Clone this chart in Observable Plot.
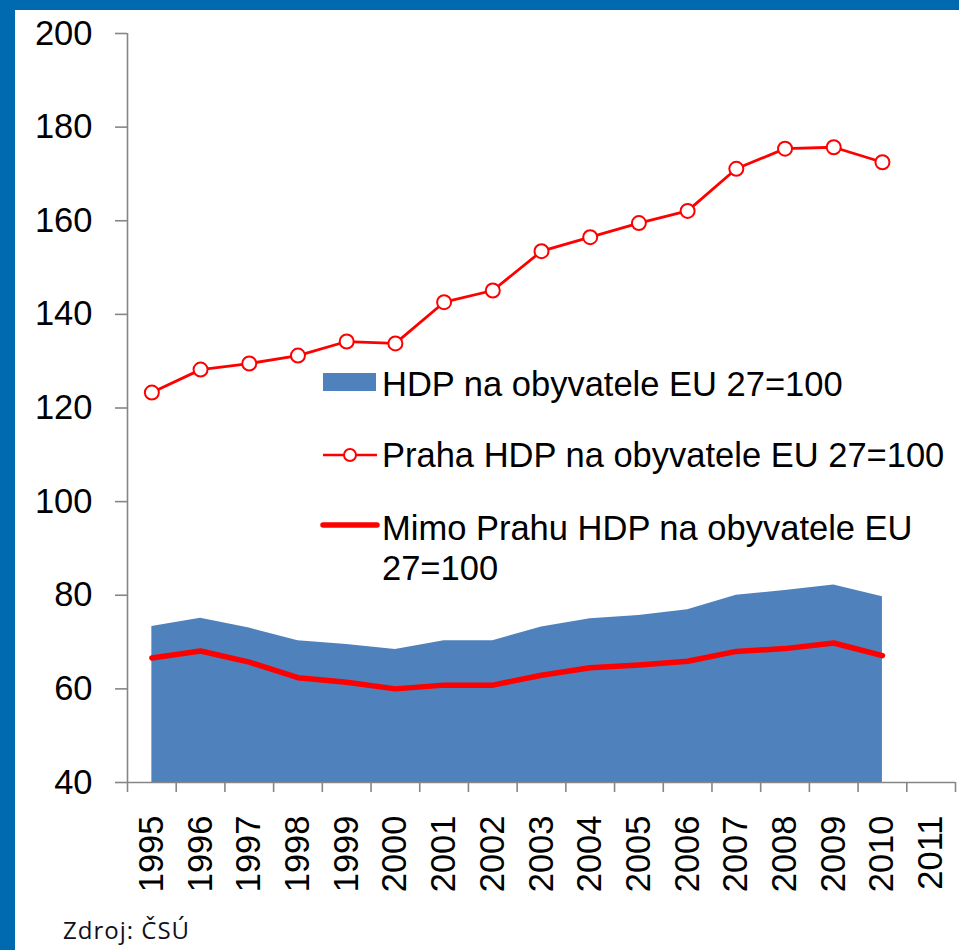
<!DOCTYPE html>
<html>
<head>
<meta charset="utf-8">
<script src="https://cdn.jsdelivr.net/npm/d3@7"></script>
<script src="https://cdn.jsdelivr.net/npm/@observablehq/plot@0.6"></script>
<style>
  html, body { margin: 0; padding: 0; background: #fff; }
  #wrap { position: relative; width: 959px; height: 950px; overflow: hidden; background: #fff; }
  .bar { position: absolute; background: #006AB0; }
  #chart { position: absolute; left: 0; top: 0; }
  .leg { position: absolute; font-family: Arial, "Liberation Sans", Arimo, Helvetica, sans-serif; font-size: 34.5px; line-height: 40px; color: #000; }
  .sw { position: absolute; }
  #caption { position: absolute; left: 63px; top: 918px; font-family: "Open Sans", sans-serif; font-size: 24px; line-height: 24px; letter-spacing: 1px; color: #10101c; }
</style>
</head>
<body>
<div id="wrap">
  <div id="chart"></div>
  <div class="bar" style="left:0;top:0;width:959px;height:10px"></div>
  <div class="bar" style="left:0;top:0;width:15px;height:950px"></div>
  <div id="legend"></div>
  <div id="caption"></div>
</div>
<script>
// ---- data ----
const years = [1995, 1996, 1997, 1998, 1999, 2000, 2001, 2002, 2003, 2004, 2005, 2006, 2007, 2008, 2009, 2010];
const axisYears = [1995, 1996, 1997, 1998, 1999, 2000, 2001, 2002, 2003, 2004, 2005, 2006, 2007, 2008, 2009, 2010, 2011];
const hdp   = [73.3, 75.1, 73.0, 70.3, 69.5, 68.4, 70.3, 70.3, 73.2, 75.0, 75.7, 76.9, 80.0, 81.0, 82.2, 79.7];
const praha = [123.3, 128.2, 129.5, 131.2, 134.2, 133.8, 142.6, 145.1, 153.5, 156.5, 159.5, 162.1, 171.1, 175.4, 175.7, 172.5];
const mimo  = [66.6, 68.1, 65.7, 62.4, 61.4, 60.0, 60.8, 60.8, 62.9, 64.5, 65.1, 65.9, 68.0, 68.6, 69.8, 67.1];
const yTicks = [40, 60, 80, 100, 120, 140, 160, 180, 200];
const seriesNames = ["HDP na obyvatele EU 27=100", "Praha HDP na obyvatele EU 27=100", "Mimo Prahu HDP na obyvatele EU 27=100"];
const sourceText = "Zdroj: ČSÚ";

const data = years.map((year, i) => ({year, hdp: hdp[i], praha: praha[i], mimo: mimo[i]}));
// category boundaries (tick marks sit between categories)
const boundaries = axisYears.map(y => y - 0.5).concat([axisYears[axisYears.length - 1] + 0.5]);

const BLUE = "#4F81BD", RED = "#FF0000", AXIS = "#868686";

const chart = Plot.plot({
  width: 959,
  height: 900,
  marginLeft: 127,
  marginRight: 4,
  marginTop: 33,
  marginBottom: 118,
  x: {domain: [boundaries[0], boundaries[boundaries.length - 1]]},
  y: {domain: [40, 200]},
  style: {fontFamily: "Arial, 'Liberation Sans', Arimo, Helvetica, sans-serif", fontSize: "34.5px", color: "#000", background: "transparent", overflow: "visible"},
  marks: [
    Plot.areaY(data, {x: "year", y1: 40, y2: "hdp", fill: BLUE}),
    Plot.line(data, {x: "year", y: "mimo", stroke: RED, strokeWidth: 5.5, strokeLinecap: "round", strokeLinejoin: "round"}),
    Plot.line(data, {x: "year", y: "praha", stroke: RED, strokeWidth: 2.8}),
    Plot.dot(data, {x: "year", y: "praha", r: 7, fill: "white", stroke: RED, strokeWidth: 2}),
    Plot.ruleY([40], {stroke: AXIS, strokeWidth: 1.6}),
    Plot.ruleX([boundaries[0]], {stroke: AXIS, strokeWidth: 1.6}),
    Plot.axisY({ticks: yTicks, tickSize: 12, tickPadding: 23, tickFormat: d => String(d), stroke: AXIS, strokeWidth: 1.6, fill: "#000", label: null}),
    Plot.axisX({ticks: boundaries, tickSize: 10, tickFormat: () => "", stroke: AXIS, strokeWidth: 1.6, label: null}),
    Plot.axisX({ticks: axisYears, tickSize: 0, tickRotate: -90, tickPadding: 33, tickFormat: d => String(d), fill: "#000", label: null})
  ]
});
document.getElementById("chart").appendChild(chart);

// ---- legend (inside plot area) ----
const legend = document.getElementById("legend");
const NS = "http://www.w3.org/2000/svg";
function swatch(kind, top) {
  const s = document.createElementNS(NS, "svg");
  s.setAttribute("width", 60); s.setAttribute("height", 30);
  s.setAttribute("class", "sw");
  s.style.left = "320px"; s.style.top = (top - 15) + "px";
  if (kind === "area") {
    const r = document.createElementNS(NS, "rect");
    r.setAttribute("x", 3); r.setAttribute("y", 5); r.setAttribute("width", 53); r.setAttribute("height", 18);
    r.setAttribute("fill", BLUE); s.appendChild(r);
  } else {
    const l = document.createElementNS(NS, "line");
    l.setAttribute("x1", 3); l.setAttribute("x2", 57); l.setAttribute("y1", 15); l.setAttribute("y2", 15);
    l.setAttribute("stroke", RED); l.setAttribute("stroke-width", kind === "thick" ? 5.5 : 2.5);
    l.setAttribute("stroke-linecap", kind === "thick" ? "round" : "butt");
    s.appendChild(l);
    if (kind === "marker") {
      const c = document.createElementNS(NS, "circle");
      c.setAttribute("cx", 30); c.setAttribute("cy", 15); c.setAttribute("r", 6);
      c.setAttribute("fill", "white"); c.setAttribute("stroke", RED); c.setAttribute("stroke-width", 2);
      s.appendChild(c);
    }
  }
  legend.appendChild(s);
}
function label(text, top, nowrap) {
  const d = document.createElement("div");
  d.className = "leg";
  d.style.left = "382px"; d.style.top = top + "px"; d.style.width = "572px";
  if (nowrap) d.style.whiteSpace = "nowrap";
  d.textContent = text;
  legend.appendChild(d);
}
swatch("area", 383); label(seriesNames[0], 364, true);
swatch("marker", 455); label(seriesNames[1], 435, true);
swatch("thick", 525); label(seriesNames[2], 508, false);

document.getElementById("caption").textContent = sourceText;
</script>
</body>
</html>
